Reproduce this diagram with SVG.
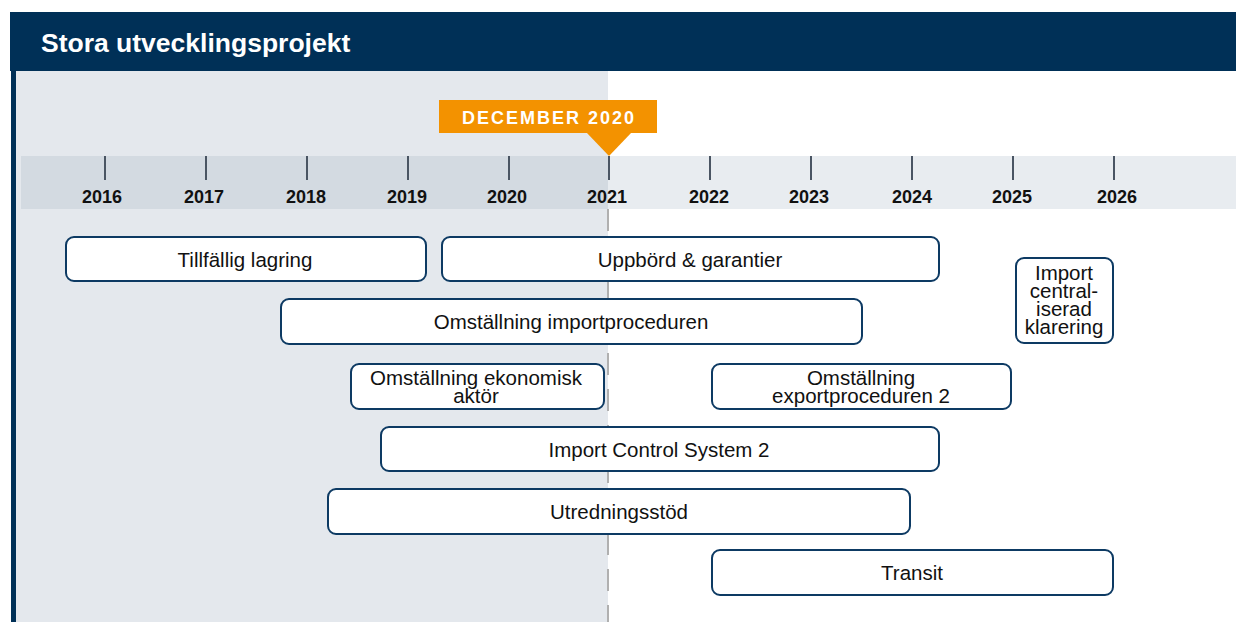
<svg xmlns="http://www.w3.org/2000/svg" width="1236" height="622" viewBox="0 0 1236 622">
<style>
.box{fill:#fff;stroke:#0d3a63;stroke-width:2}
.lbl{font-family:"Liberation Sans",Arial,sans-serif;font-size:20.5px;fill:#111;text-anchor:middle}
.yr{font-family:"Liberation Sans",Arial,sans-serif;font-size:18px;font-weight:bold;fill:#111;text-anchor:middle}
.tick{stroke:#4a5563;stroke-width:2}
</style>
<rect x="0" y="0" width="1236" height="622" fill="#fff"/>
<rect x="16" y="71" width="592" height="551" fill="#e4e8ed"/>
<rect x="10" y="12" width="1226" height="59" fill="#003057"/>
<rect x="11" y="71" width="5" height="551" fill="#003057"/>
<text x="41" y="52" font-family="'Liberation Sans',Arial,sans-serif" font-size="26.5" font-weight="bold" fill="#fff">Stora utvecklingsprojekt</text>
<rect x="21" y="156" width="587" height="53" fill="#d3dae1"/>
<rect x="608" y="156" width="628" height="53" fill="#e8ecf0"/>
<g id="ticks">
<line class="tick" x1="105" y1="156" x2="105" y2="180"/>
<line class="tick" x1="206" y1="156" x2="206" y2="180"/>
<line class="tick" x1="307" y1="156" x2="307" y2="180"/>
<line class="tick" x1="408" y1="156" x2="408" y2="180"/>
<line class="tick" x1="509" y1="156" x2="509" y2="180"/>
<line class="tick" x1="609" y1="156" x2="609" y2="180"/>
<line class="tick" x1="710" y1="156" x2="710" y2="180"/>
<line class="tick" x1="811" y1="156" x2="811" y2="180"/>
<line class="tick" x1="912" y1="156" x2="912" y2="180"/>
<line class="tick" x1="1013" y1="156" x2="1013" y2="180"/>
<line class="tick" x1="1114" y1="156" x2="1114" y2="180"/>
</g>
<g id="years">
<text class="yr" x="102" y="203">2016</text>
<text class="yr" x="204" y="203">2017</text>
<text class="yr" x="306" y="203">2018</text>
<text class="yr" x="407" y="203">2019</text>
<text class="yr" x="507" y="203">2020</text>
<text class="yr" x="607" y="203">2021</text>
<text class="yr" x="709" y="203">2022</text>
<text class="yr" x="809" y="203">2023</text>
<text class="yr" x="912" y="203">2024</text>
<text class="yr" x="1012" y="203">2025</text>
<text class="yr" x="1117" y="203">2026</text>
</g>
<g id="connectors">
<line x1="608" y1="209" x2="608" y2="622" stroke="#b0b0b0" stroke-width="2" stroke-dasharray="22 14"/>
</g>
<g id="marker-dec2020">
<rect x="439" y="100" width="218" height="33" fill="#f39200"/>
<polygon points="586,132 632,132 609,156" fill="#f39200"/>
<text x="549" y="123.5" font-family="'Liberation Sans',Arial,sans-serif" font-size="18" font-weight="bold" fill="#fff" text-anchor="middle" letter-spacing="2">DECEMBER 2020</text>
</g>
<g id="n-tillfallig">
<rect class="box" x="66" y="237" width="360" height="44" rx="8"/>
<text class="lbl" x="245" y="267">Tillfällig lagring</text>
</g>
<g id="n-uppbord">
<rect class="box" x="442" y="237" width="497" height="44" rx="8"/>
<text class="lbl" x="690" y="267">Uppbörd &amp; garantier</text>
</g>
<g id="n-import-central">
<rect class="box" x="1016" y="258" width="97" height="85" rx="8"/>
<text class="lbl" x="1064" y="280">Import</text>
<text class="lbl" x="1064" y="298">central-</text>
<text class="lbl" x="1064" y="316">iserad</text>
<text class="lbl" x="1064" y="334">klarering</text>
</g>
<g id="n-importproc">
<rect class="box" x="281" y="299" width="581" height="45" rx="8"/>
<text class="lbl" x="571" y="329">Omställning importproceduren</text>
</g>
<g id="n-ekonomisk">
<rect class="box" x="351" y="364" width="253" height="45" rx="8"/>
<text class="lbl" x="476" y="385">Omställning ekonomisk</text>
<text class="lbl" x="476" y="403">aktör</text>
</g>
<g id="n-export">
<rect class="box" x="712" y="364" width="299" height="45" rx="8"/>
<text class="lbl" x="861" y="385">Omställning</text>
<text class="lbl" x="861" y="403">exportproceduren 2</text>
</g>
<g id="n-ics2">
<rect class="box" x="381" y="427" width="558" height="44" rx="8"/>
<text class="lbl" x="659" y="457">Import Control System 2</text>
</g>
<g id="n-utredning">
<rect class="box" x="328" y="489" width="582" height="45" rx="8"/>
<text class="lbl" x="619" y="519">Utredningsstöd</text>
</g>
<g id="n-transit">
<rect class="box" x="712" y="550" width="401" height="45" rx="8"/>
<text class="lbl" x="912" y="580">Transit</text>
</g>
</svg>
